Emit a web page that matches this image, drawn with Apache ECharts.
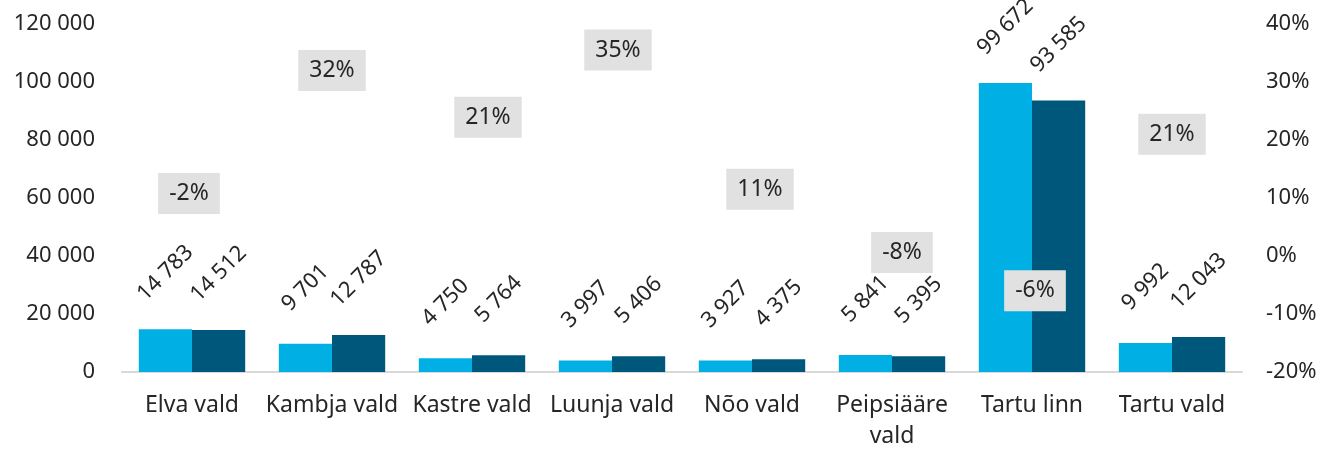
<!DOCTYPE html>
<html>
<head>
<meta charset="utf-8">
<script src="https://cdn.jsdelivr.net/npm/echarts@6/dist/echarts.min.js"></script>
<style>
    html, body { margin: 0; padding: 0; background: #fff; }
    #chart { width: 1343px; height: 452px; }
</style>
</head>
<body>
<div id="chart"></div>
<script>
// omavalitsused
var categories = ['Elva vald', 'Kambja vald', 'Kastre vald', 'Luunja vald', 'Nõo vald', 'Peipsiääre\nvald', 'Tartu linn', 'Tartu vald'];
// esimene ja teine aasta
var seriesA = [14783, 9701, 4750, 3997, 3927, 5841, 99672, 9992];
var seriesB = [14512, 12787, 5764, 5406, 4375, 5395, 93585, 12043];
// muutus %
var changePct = [-2, 32, 21, 35, 11, -8, -6, 21];
var leftTicks = [0, 20000, 40000, 60000, 80000, 100000, 120000];
var rightTicks = [-20, -10, 0, 10, 20, 30, 40];

// sildi nihutus pikslites (Exceli käsitsi liigutatud sildid)
var pctNudge = {
    0: [-3, -74],
    2: [16, -17],
    3: [6, -3],
    4: [8, -3],
    5: [10, -50],
    6: [3, 0]
};

var FONT = 'Noto Sans';
var TXT = '#262626';

function fmtNum(v) {
    return String(v).replace(/\B(?=(\d{3})+(?!\d))/g, ' ');
}

var chartObj = echarts.init(document.getElementById('chart'));

var barLabel = {
    show: true,
    position: 'top',
    distance: 56,
    rotate: 45,
    align: 'center',
    verticalAlign: 'middle',
    fontFamily: FONT,
    fontSize: 22,
    color: TXT,
    formatter: function (p) { return fmtNum(p.value); }
};

var pctData = changePct.map(function (v, i) {
    var item = { value: [i, v] };
    if (pctNudge[i]) {
        item.label = { offset: pctNudge[i] };
    }
    return item;
});

var option = {
    animation: false,
    textStyle: { fontFamily: FONT },
    grid: { left: 122, right: 101, top: 24, bottom: 78 },
    xAxis: {
        type: 'category',
        data: categories,
        axisLine: { lineStyle: { color: '#D9D9D9', width: 2 } },
        axisTick: { show: false },
        axisLabel: {
            fontFamily: FONT,
            fontSize: 23,
            color: TXT,
            margin: 18,
            lineHeight: 31,
            interval: 0
        }
    },
    yAxis: [{
        type: 'value',
        min: leftTicks[0],
        max: leftTicks[leftTicks.length - 1],
        interval: 20000,
        splitLine: { show: false },
        axisLine: { show: false },
        axisTick: { show: false },
        axisLabel: {
            fontFamily: FONT,
            fontSize: 22,
            color: TXT,
            margin: 27,
            formatter: function (v) { return fmtNum(v); }
        }
    }, {
        type: 'value',
        min: rightTicks[0],
        max: rightTicks[rightTicks.length - 1],
        interval: 10,
        splitLine: { show: false },
        axisLine: { show: false },
        axisTick: { show: false },
        axisLabel: {
            fontFamily: FONT,
            fontSize: 22,
            color: TXT,
            margin: 24,
            formatter: '{value}%'
        }
    }],
    series: [{
        name: 'A',
        type: 'bar',
        data: seriesA,
        barGap: '0%',
        barCategoryGap: '24%',
        itemStyle: { color: '#00B0E4' },
        label: barLabel
    }, {
        name: 'B',
        type: 'bar',
        data: seriesB,
        itemStyle: { color: '#00577C' },
        label: barLabel
    }, {
        name: 'muutus',
        type: 'scatter',
        yAxisIndex: 1,
        data: pctData,
        symbolSize: 1,
        itemStyle: { color: 'rgba(0,0,0,0)', opacity: 1 },
        z: 5,
        label: {
            show: true,
            position: 'inside',
            fontFamily: FONT,
            fontSize: 23,
            color: TXT,
            backgroundColor: '#E1E1E1',
            padding: [9, 11],
            formatter: function (p) { return p.value[1] + '%'; }
        }
    }]
};
chartObj.setOption(option);
</script>
</body>
</html>
